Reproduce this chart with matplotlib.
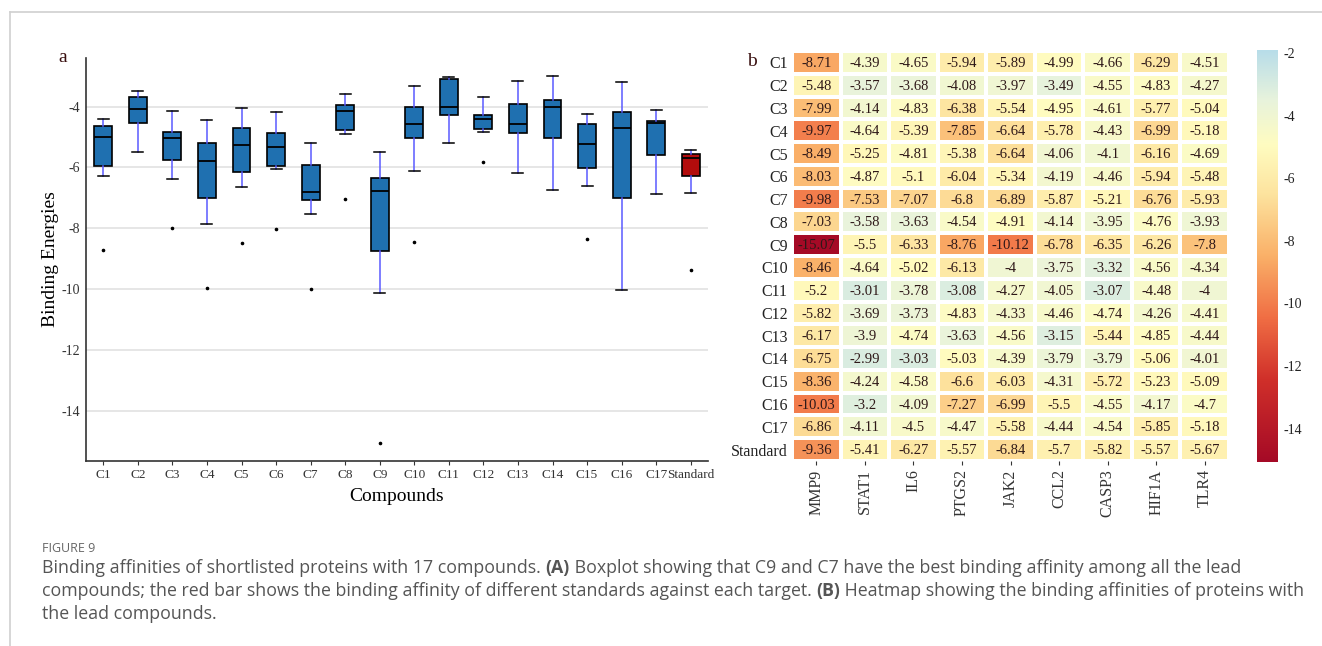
import numpy as np
import matplotlib
matplotlib.use('Agg')
import matplotlib.pyplot as plt
from matplotlib.colors import LinearSegmentedColormap

compounds = ['C1', 'C2', 'C3', 'C4', 'C5', 'C6', 'C7', 'C8', 'C9', 'C10',
             'C11', 'C12', 'C13', 'C14', 'C15', 'C16', 'C17', 'Standard']
targets = ['MMP9', 'STAT1', 'IL6', 'PTGS2', 'JAK2', 'CCL2', 'CASP3', 'HIF1A', 'TLR4']

# docking scores (kcal/mol), one row per compound, one column per target
energies = np.array([
    [-8.71, -4.39, -4.65, -5.94, -5.89, -4.99, -4.66, -6.29, -4.51],
    [-5.48, -3.57, -3.68, -4.08, -3.97, -3.49, -4.55, -4.83, -4.27],
    [-7.99, -4.14, -4.83, -6.38, -5.54, -4.95, -4.61, -5.77, -5.04],
    [-9.97, -4.64, -5.39, -7.85, -6.64, -5.78, -4.43, -6.99, -5.18],
    [-8.49, -5.25, -4.81, -5.38, -6.64, -4.06, -4.1, -6.16, -4.69],
    [-8.03, -4.87, -5.1, -6.04, -5.34, -4.19, -4.46, -5.94, -5.48],
    [-9.98, -7.53, -7.07, -6.8, -6.89, -5.87, -5.21, -6.76, -5.93],
    [-7.03, -3.58, -3.63, -4.54, -4.91, -4.14, -3.95, -4.76, -3.93],
    [-15.07, -5.5, -6.33, -8.76, -10.12, -6.78, -6.35, -6.26, -7.8],
    [-8.46, -4.64, -5.02, -6.13, -4, -3.75, -3.32, -4.56, -4.34],
    [-5.2, -3.01, -3.78, -3.08, -4.27, -4.05, -3.07, -4.48, -4],
    [-5.82, -3.69, -3.73, -4.83, -4.33, -4.46, -4.74, -4.26, -4.41],
    [-6.17, -3.9, -4.74, -3.63, -4.56, -3.15, -5.44, -4.85, -4.44],
    [-6.75, -2.99, -3.03, -5.03, -4.39, -3.79, -3.79, -5.06, -4.01],
    [-8.36, -4.24, -4.58, -6.6, -6.03, -4.31, -5.72, -5.23, -5.09],
    [-10.03, -3.2, -4.09, -7.27, -6.99, -5.5, -4.55, -4.17, -4.7],
    [-6.86, -4.11, -4.5, -4.47, -5.58, -4.44, -4.54, -5.85, -5.18],
    [-9.36, -5.41, -6.27, -5.57, -6.84, -5.7, -5.82, -5.57, -5.67],
])

serif = 'Liberation Serif'
plt.rcParams['font.family'] = serif

fig = plt.figure(figsize=(13.22, 6.46), dpi=100)

# light frame round the panel
fig.add_artist(plt.Line2D([10/1322, 1], [1 - 12/646, 1 - 12/646], color='#d0d0d0', lw=1.2))
fig.add_artist(plt.Line2D([10/1322, 10/1322], [0, 1 - 12/646], color='#d0d0d0', lw=1.2))

# ---- a: boxplot ----
ax = fig.add_axes([86/1322, 1 - 461/646, (708 - 86)/1322, (461 - 58)/646])
pos = np.arange(1, len(compounds) + 1)
bp = ax.boxplot([row for row in energies], positions=pos, widths=0.52,
                patch_artist=True, whis=1.5,
                boxprops=dict(edgecolor='black', linewidth=1.2),
                medianprops=dict(color='black', linewidth=1.3),
                whiskerprops=dict(color='#5a5aff', linewidth=1.1),
                capprops=dict(color='black', linewidth=1.1),
                capwidths=0.32,
                flierprops=dict(marker='o', markersize=1.6, markerfacecolor='black',
                                markeredgecolor='black'))
for i, b in enumerate(bp['boxes']):
    b.set_facecolor('#b30c0c' if compounds[i] == 'Standard' else '#1f70b0')
ax.set_xlim(0.5, len(compounds) + 0.5)
ax.set_ylim(-15.65, -2.4)
ax.set_yticks([-4, -6, -8, -10, -12, -14])
ax.set_yticklabels(['-4', '-6', '-8', '-10', '-12', '-14'])
ax.set_xticks(pos)
ax.set_xticklabels(compounds)
ax.yaxis.grid(True, color='#e2e2e2', lw=1.2)
ax.set_axisbelow(True)
ax.tick_params(axis='y', length=0, labelsize=10, pad=4, colors='#333333')
ax.tick_params(axis='x', length=3, labelsize=9.5, pad=3, colors='#333333')
for s in ['top', 'right']:
    ax.spines[s].set_visible(False)
for s in ['left', 'bottom']:
    ax.spines[s].set_color('#333333')
    ax.spines[s].set_linewidth(1.2)
ax.set_ylabel('Binding Energies', fontsize=14, labelpad=2)
ax.set_xlabel('Compounds', fontsize=14, labelpad=5)
fig.text(63/1322, 1 - 58/646, 'a', fontsize=14, color='#3a1010', ha='center', va='center')

# ---- b: heatmap ----
cmap = LinearSegmentedColormap.from_list('be', [
    (0.0, '#a50a26'), (0.20, '#d0302a'), (0.35, '#f06e44'), (0.50, '#fab068'),
    (0.65, '#fde39e'), (0.77, '#fffcc0'), (0.88, '#e8f3dc'), (1.0, '#b8dde9')])
vmin, vmax = -15.07, -1.9

hx = fig.add_axes([792/1322, 1 - 461/646, (1229 - 792)/1322, (461 - 51)/646])
hx.pcolormesh(energies, cmap=cmap, vmin=vmin, vmax=vmax,
              edgecolors='white', linewidth=1.5)
hx.set_xlim(0, len(targets))
hx.set_ylim(len(compounds), 0)
for r in range(len(compounds)):
    for c in range(len(targets)):
        hx.text(c + 0.5, r + 0.55, f'{energies[r, c]:g}', ha='center', va='center',
                fontsize=10.5, color='#2e1818')
hx.set_xticks(np.arange(len(targets)) + 0.5)
hx.set_xticklabels(targets, rotation=90)
hx.set_yticks(np.arange(len(compounds)) + 0.5)
hx.set_yticklabels(compounds)
hx.tick_params(axis='x', length=3, labelsize=11.5, pad=3, colors='#333333')
hx.tick_params(axis='y', length=0, labelsize=11.5, pad=3, colors='#222222')
for s in hx.spines.values():
    s.set_visible(False)
fig.text(752/1322, 1 - 62/646, 'b', fontsize=14, color='#3a1010', ha='center', va='center')

cx = fig.add_axes([1257/1322, 1 - 462/646, 21/1322, (462 - 50)/646])
grad = np.linspace(vmin, vmax, 256).reshape(-1, 1)
cx.imshow(grad, aspect='auto', cmap=cmap, vmin=vmin, vmax=vmax, origin='lower',
          extent=[0, 1, vmin, vmax])
cx.set_xticks([])
cx.yaxis.tick_right()
cx.set_yticks([-2, -4, -6, -8, -10, -12, -14])
cx.set_yticklabels(['-2', '-4', '-6', '-8', '-10', '-12', '-14'])
cx.tick_params(axis='y', length=0, labelsize=10, pad=4, colors='#222222')
for s in cx.spines.values():
    s.set_visible(False)

# ---- caption ----
cap_font = 'Open Sans'
cap_color = '#555555'
fig.text(42/1322, 1 - 548/646, 'FIGURE 9', fontsize=9, color='#666666',
         family=cap_font, va='center')

lines = [
    [('Binding affinities of shortlisted proteins with 17 compounds. ', 'normal'),
     ('(A)', 'bold'),
     (' Boxplot showing that C9 and C7 have the best binding affinity among all the lead', 'normal')],
    [('compounds; the red bar shows the binding affinity of different standards against each target. ', 'normal'),
     ('(B)', 'bold'),
     (' Heatmap showing the binding affinities of proteins with', 'normal')],
    [('the lead compounds.', 'normal')],
]
renderer = fig.canvas.get_renderer()
for k, segs in enumerate(lines):
    x = 42 / 1322
    y = 1 - (568 + 23 * k) / 646
    for txt, wt in segs:
        t = fig.text(x, y, txt, fontsize=12.8, color=cap_color, family=cap_font,
                     weight=wt, va='center')
        bb = t.get_window_extent(renderer)
        x += bb.width / fig.bbox.width

fig.savefig('out.png', dpi=100)
